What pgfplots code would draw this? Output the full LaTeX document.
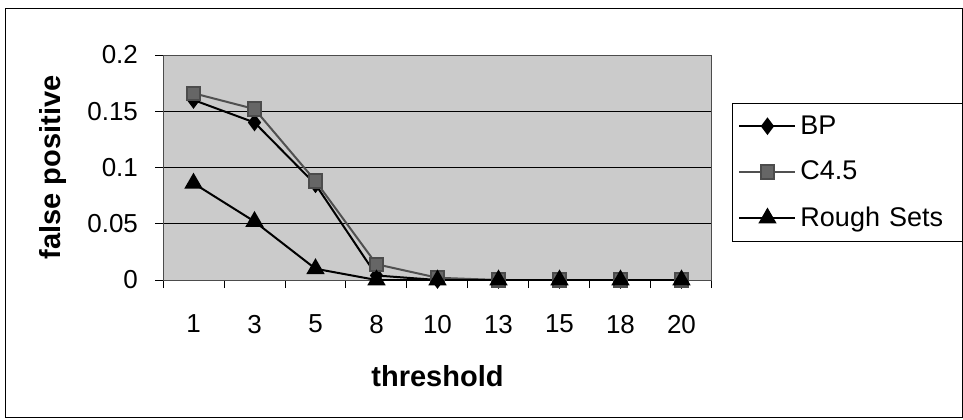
\documentclass[border=0pt]{standalone}
\usepackage{fontspec}
\setmainfont{Liberation Sans}
\usepackage{pgfplots}
\pgfplotsset{compat=1.18}
\definecolor{plotbg}{RGB}{203,203,203}
\definecolor{cgray}{RGB}{80,80,80}
\begin{document}
\begin{tikzpicture}
\useasboundingbox (0,0) rectangle (481.5pt,209.5pt);
\begin{axis}[
  at={(81.5pt,69.5pt)}, anchor=south west,
  scale only axis, width=274.5pt, height=112.5pt,
  xmin=-0.5, xmax=8.5, ymin=0, ymax=0.2,
  xtick={0,...,8},
  xticklabels={1,3,5,8,10,13,15,18,20},
  minor xtick={-0.5,0.5,...,8.5},
  ytick={0,0.05,...,0.2},
  yticklabels={0,0.05,0.1,0.15,0.2},
  xtick pos=lower, ytick pos=left,
  major x tick style={draw=none},
  tick align=outside,
  major tick length=4pt, minor tick length=4pt,
  tick style={black, line width=0.5pt},
  ymajorgrids, grid style={black, line width=0.5pt},
  axis line style={draw=gray!60!black, line width=0.5pt},
  axis background/.style={fill=plotbg},
  /pgf/number format/assume math mode=true,
  ticklabel style={font=\fontsize{13}{15}\selectfont},
  xticklabel style={yshift=-10pt},
  yticklabel style={xshift=-5pt},
  xlabel={\textbf{threshold}},
  ylabel={\textbf{false positive}},
  label style={font=\fontsize{14.5}{16}\selectfont},
  xlabel style={at={(rel axis cs:0.5,-0.427)}, anchor=center},
  ylabel style={at={(rel axis cs:-0.2,0.5)}, anchor=center, rotate=0},
  legend style={at={(rel axis cs:1.0364,0.787)}, anchor=north west,
    draw=black, line width=0.5pt, fill=white,
    font=\fontsize{13.5}{16}\selectfont,
    inner xsep=3pt, inner ysep=4pt, row sep=8pt,
    text width=78pt},
  legend cell align=left,
  legend image code/.code={
    \draw[#1, mark=none] (0pt,0pt) -- (28pt,0pt);
    \draw[#1, only marks] plot coordinates {(14pt,0pt)};
  },
]
\addplot[black, line width=1pt, mark=diamond*, mark size=3.6pt, mark options={solid, fill=black}]
  coordinates {(0,0.160) (1,0.140) (2,0.085) (3,0.004) (4,0) (5,0) (6,0) (7,0) (8,0)};
\addlegendentry{BP}
\addplot[cgray, line width=1pt, mark=square*, mark size=3.3pt, mark options={solid, fill=gray!80!black, draw=gray!60!black}]
  coordinates {(0,0.166) (1,0.152) (2,0.088) (3,0.014) (4,0.002) (5,0) (6,0) (7,0) (8,0)};
\addlegendentry{C4.5}
\addplot[black, line width=1pt, mark=triangle*, mark size=4.3pt, mark options={solid, fill=black}]
  coordinates {(0,0.086) (1,0.052) (2,0.010) (3,0) (4,0) (5,0) (6,0) (7,0) (8,0)};
\addlegendentry{Rough Sets}
\end{axis}
\draw[black, line width=0.5pt] (2.5pt,1pt) rectangle (481pt,205.5pt);
\end{tikzpicture}
\end{document}
